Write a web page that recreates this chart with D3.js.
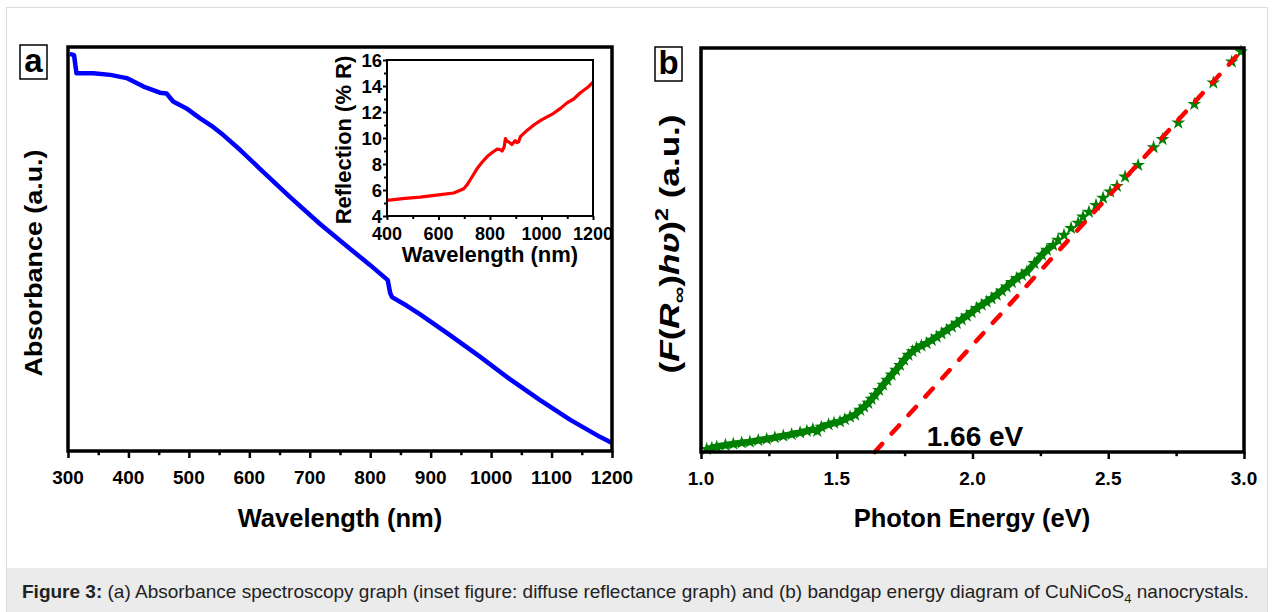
<!DOCTYPE html>
<meta charset="utf-8">
<title>Figure 3 - Absorbance and bandgap</title>
<style>
body {
  margin: 0;
  background: #fff;
}
text {
  font-family: "Liberation Sans", Arial, sans-serif;
  fill: #000;
}
.axis path { display: none; }
.axis line { stroke: #000; }
.tick-label { font-weight: bold; }
.title { font-weight: bold; }
</style>
<body>
<div id="fig"></div>

<script src="https://cdn.jsdelivr.net/npm/d3@7/dist/d3.min.js"></script>
<script>
// ---- data ----
// (a) absorbance, arbitrary units (0..1 across the frame)
const absWavelength = [303, 310, 314, 342, 370, 397, 425, 452, 463, 474, 496, 518, 540, 557, 585,
  618, 667, 717, 767, 800, 829, 833, 836, 860, 882, 932, 982, 1031, 1081, 1131, 1180, 1200];
const absValue = [0.983, 0.980, 0.935, 0.935, 0.931, 0.923, 0.902, 0.887, 0.885, 0.865, 0.848, 0.824, 0.802, 0.782, 0.745,
  0.698, 0.629, 0.562, 0.500, 0.460, 0.423, 0.391, 0.381, 0.360, 0.339, 0.287, 0.233, 0.178, 0.126, 0.077, 0.035, 0.020];

// inset: diffuse reflectance (%R)
const reflWavelength = [400, 470, 529, 600, 659, 698, 711, 730, 750, 770, 788, 810, 827, 840, 847, 855, 860, 866, 873, 885, 898, 905, 911, 918,
  945, 970, 1000, 1047, 1075, 1099, 1125, 1152, 1180, 1200];
const reflValue = [5.2, 5.35, 5.45, 5.62, 5.77, 6.1, 6.4, 7.0, 7.65, 8.15, 8.55, 8.9, 9.14, 9.1, 9.0, 9.3, 9.96, 9.75, 9.7, 9.5, 9.8, 9.65, 9.7, 10.1,
  10.6, 11.0, 11.4, 11.9, 12.3, 12.7, 13.0, 13.5, 13.9, 14.3];

// (b) Kubelka-Munk (F(R)hv)^2, arbitrary units (0..1 across the frame)
const energy = [1.021, 1.040, 1.058, 1.090, 1.119, 1.150, 1.180, 1.211, 1.242, 1.272, 1.303, 1.334, 1.365, 1.390, 1.412, 1.428, 1.443,
  1.470, 1.490, 1.512, 1.530, 1.549, 1.568, 1.586, 1.601, 1.616, 1.628, 1.641, 1.656, 1.671, 1.686, 1.702, 1.718, 1.733, 1.748, 1.764,
  1.779, 1.794, 1.812, 1.831, 1.850, 1.868, 1.886, 1.905, 1.924, 1.942, 1.960, 1.979, 1.997, 2.015, 2.034, 2.052, 2.070, 2.089, 2.108,
  2.126, 2.145, 2.163, 2.182, 2.200, 2.228, 2.256, 2.274, 2.297, 2.315, 2.337, 2.363, 2.389, 2.407, 2.429, 2.455, 2.481, 2.507, 2.532,
  2.562, 2.610, 2.667, 2.700, 2.758, 2.817, 2.887, 2.955, 2.989];
const kmValue = [0.007, 0.010, 0.013, 0.017, 0.020, 0.023, 0.025, 0.029, 0.032, 0.036, 0.040, 0.044, 0.048, 0.052, 0.056, 0.052, 0.062,
  0.068, 0.072, 0.075, 0.081, 0.087, 0.092, 0.104, 0.112, 0.121, 0.131, 0.141, 0.153, 0.166, 0.178, 0.191, 0.203, 0.215, 0.228, 0.240,
  0.249, 0.257, 0.263, 0.269, 0.277, 0.285, 0.293, 0.302, 0.310, 0.319, 0.328, 0.337, 0.346, 0.356, 0.364, 0.372, 0.380, 0.389, 0.399,
  0.409, 0.420, 0.430, 0.438, 0.446, 0.467, 0.488, 0.500, 0.512, 0.525, 0.537, 0.554, 0.567, 0.582, 0.594, 0.611, 0.629, 0.644, 0.658,
  0.681, 0.710, 0.754, 0.774, 0.815, 0.861, 0.914, 0.966, 0.991];

// linear fit of the absorption edge
const fitEnergy = [1.64, 3.0];
const fitValue = [0, 1.0];
const bandgapLabel = "1.66 eV";

// ticks
const absMajorTicks = [300, 400, 500, 600, 700, 800, 900, 1000, 1100, 1200];
const absMinorTicks = [350, 450, 550, 650, 750, 850, 950, 1050, 1150];
const insetXTicks = [400, 600, 800, 1000, 1200];
const insetXMinor = [500, 700, 900, 1100];
const insetYTicks = [4, 6, 8, 10, 12, 14, 16];
const insetYMinor = [5, 7, 9, 11, 13, 15];
const energyMajorTicks = [1.0, 1.5, 2.0, 2.5, 3.0];
const energyMinorTicks = [1.25, 1.75, 2.25, 2.75];

// ---- page ----
const width = 1273, height = 612;
const svg = d3.select("#fig").append("svg")
    .attr("width", width)
    .attr("height", height);

// outer figure box + caption band
svg.append("rect")
    .attr("x", 6.5).attr("y", 7.5)
    .attr("width", 1261).attr("height", 620)
    .attr("fill", "#fff").attr("stroke", "#dcdcdc");
svg.append("rect")
    .attr("x", 7).attr("y", 568)
    .attr("width", 1260).attr("height", 44)
    .attr("fill", "#ebebeb");

const caption = svg.append("text")
    .attr("x", 22).attr("y", 598)
    .style("font-size", "19px")
    .style("fill", "#222");
caption.append("tspan").style("font-weight", "bold").text("Figure 3:");
caption.append("tspan").text(" (a) Absorbance spectroscopy graph (inset figure: diffuse reflectance graph) and (b) bandgap energy diagram of CuNiCoS");
caption.append("tspan").attr("dy", 5).style("font-size", "13px").text("4");
caption.append("tspan").attr("dy", -5).text(" nanocrystals.");

// helper: bottom axis with major + minor ticks
function bottomAxis(g, scale, y, major, minor, len, fmt, fontSize, labelDy) {
  const ax = g.append("g").attr("class", "axis").attr("transform", `translate(0,${y})`);
  ax.call(d3.axisBottom(scale).tickValues(major).tickSize(len).tickFormat(""));
  ax.append("g").call(d3.axisBottom(scale).tickValues(minor).tickSize(len * 0.6).tickFormat(""));
  ax.selectAll("line").attr("stroke-width", 2.5);
  ax.selectAll("path").remove();
  g.selectAll(null).data(major).enter().append("text")
      .attr("class", "tick-label")
      .attr("x", d => scale(d))
      .attr("y", y + labelDy)
      .attr("text-anchor", "middle")
      .style("font-size", fontSize + "px")
      .text(fmt);
}

function panelLabel(x, y, letter) {
  svg.append("rect")
      .attr("x", x).attr("y", y)
      .attr("width", 27).attr("height", 34)
      .attr("fill", "#fff").attr("stroke", "#000").attr("stroke-width", 1.5);
  svg.append("text")
      .attr("x", x + 13.5).attr("y", y + 27)
      .attr("text-anchor", "middle")
      .style("font-size", "33px").style("font-weight", "bold")
      .text(letter);
}

// ---- panel (a) ----
const xA = d3.scaleLinear().domain([300, 1200]).range([68, 612]);
const yA = d3.scaleLinear().domain([0, 1]).range([451, 47]);
const gA = svg.append("g");

gA.append("path")
    .datum(d3.zip(absWavelength, absValue))
    .attr("fill", "none")
    .attr("stroke", "#0000ff")
    .attr("stroke-width", 4.5)
    .attr("stroke-linejoin", "round")
    .attr("d", d3.line().x(d => xA(d[0])).y(d => yA(d[1])));

gA.append("rect")
    .attr("x", 68).attr("y", 47)
    .attr("width", 544).attr("height", 404)
    .attr("fill", "none").attr("stroke", "#000").attr("stroke-width", 3.5);

bottomAxis(gA, xA, 451, absMajorTicks, absMinorTicks, 7, d => d, 19, 33);

gA.append("text").attr("class", "title")
    .attr("x", 340).attr("y", 527)
    .attr("text-anchor", "middle")
    .style("font-size", "25.5px")
    .text("Wavelength (nm)");
// rotated titles are a little stretched along their length in the source figure
gA.append("text").attr("class", "title")
    .attr("transform", "translate(42,263) rotate(-90) scale(1.12,1)")
    .attr("text-anchor", "middle")
    .style("font-size", "24px")
    .text("Absorbance (a.u.)");

panelLabel(20, 45, "a");

// inset
const xI = d3.scaleLinear().domain([400, 1200]).range([387, 593]);
const yI = d3.scaleLinear().domain([4, 16]).range([216, 60]);
const gI = svg.append("g");

gI.append("path")
    .datum(d3.zip(reflWavelength, reflValue))
    .attr("fill", "none")
    .attr("stroke", "#ff0000")
    .attr("stroke-width", 3.2)
    .attr("stroke-linejoin", "round")
    .attr("d", d3.line().x(d => xI(d[0])).y(d => yI(d[1])));

gI.append("rect")
    .attr("x", 387).attr("y", 60)
    .attr("width", 206).attr("height", 156)
    .attr("fill", "none").attr("stroke", "#000").attr("stroke-width", 2);

const insetX = gI.append("g").attr("class", "axis").attr("transform", "translate(0,216)");
insetX.call(d3.axisBottom(xI).tickValues(insetXTicks).tickSize(4).tickFormat(""));
insetX.append("g").call(d3.axisBottom(xI).tickValues(insetXMinor).tickSize(3).tickFormat(""));
insetX.selectAll("line").attr("stroke-width", 2);
const insetY = gI.append("g").attr("class", "axis").attr("transform", "translate(387,0)");
insetY.call(d3.axisLeft(yI).tickValues(insetYTicks).tickSize(4).tickFormat(""));
insetY.append("g").call(d3.axisLeft(yI).tickValues(insetYMinor).tickSize(3).tickFormat(""));
insetY.selectAll("line").attr("stroke-width", 2);

gI.selectAll(null).data(insetXTicks).enter().append("text")
    .attr("class", "tick-label")
    .attr("x", d => xI(d)).attr("y", 240)
    .attr("text-anchor", "middle")
    .style("font-size", "18px")
    .text(d => d);
gI.selectAll(null).data(insetYTicks).enter().append("text")
    .attr("class", "tick-label")
    .attr("x", 382).attr("y", d => yI(d) + 6.5)
    .attr("text-anchor", "end")
    .style("font-size", "18.5px")
    .text(d => d);

gI.append("text").attr("class", "title")
    .attr("x", 490).attr("y", 262)
    .attr("text-anchor", "middle")
    .style("font-size", "22px")
    .text("Wavelength (nm)");
gI.append("text").attr("class", "title")
    .attr("transform", "translate(351,140) rotate(-90)")
    .attr("text-anchor", "middle")
    .style("font-size", "22px")
    .text("Reflection (% R)");

// ---- panel (b) ----
const xB = d3.scaleLinear().domain([1, 3]).range([701, 1244]);
const yB = d3.scaleLinear().domain([0, 1]).range([452, 48]);
const gB = svg.append("g");
const kmPoints = d3.zip(energy, kmValue);

// the dense low-energy part reads as a solid band of stars
gB.append("path")
    .datum(kmPoints.filter(d => d[0] < 2.3))
    .attr("fill", "none")
    .attr("stroke", "#008000")
    .attr("stroke-width", 6.5)
    .attr("stroke-linejoin", "round")
    .attr("d", d3.line().x(d => xB(d[0])).y(d => yB(d[1])));

gB.selectAll("path.star")
    .data(kmPoints)
    .enter().append("path")
    .attr("class", "star")
    .attr("transform", d => `translate(${xB(d[0])},${yB(d[1])})`)
    .attr("d", d3.symbol(d3.symbolStar, 60))
    .attr("fill", "#008000");

gB.append("path")
    .datum(d3.zip(fitEnergy, fitValue))
    .attr("fill", "none")
    .attr("stroke", "#ff0000")
    .attr("stroke-width", 4.5)
    .attr("stroke-dasharray", "11,14")
    .attr("stroke-linecap", "round")
    .attr("d", d3.line().x(d => xB(d[0])).y(d => yB(d[1])));

gB.append("rect")
    .attr("x", 701).attr("y", 48)
    .attr("width", 543).attr("height", 404)
    .attr("fill", "none").attr("stroke", "#000").attr("stroke-width", 3.5);

bottomAxis(gB, xB, 452, energyMajorTicks, energyMinorTicks, 7, d3.format(".1f"), 19, 33);

gB.append("text").attr("class", "title")
    .attr("x", 975).attr("y", 446)
    .attr("text-anchor", "middle")
    .style("font-size", "28px")
    .text(bandgapLabel);

gB.append("text").attr("class", "title")
    .attr("x", 972).attr("y", 527)
    .attr("text-anchor", "middle")
    .style("font-size", "25.5px")
    .text("Photon Energy (eV)");

const yTitleB = gB.append("text").attr("class", "title")
    .attr("transform", "translate(679,244) rotate(-90) scale(1.3,1)")
    .attr("text-anchor", "middle")
    .style("font-size", "27px");
yTitleB.append("tspan").text("(");
yTitleB.append("tspan").style("font-style", "italic").text("F");
yTitleB.append("tspan").text("(");
yTitleB.append("tspan").style("font-style", "italic").text("R");
yTitleB.append("tspan").attr("dy", 6).style("font-size", "18px").text("\u221E");
yTitleB.append("tspan").attr("dy", -6).text(")");
yTitleB.append("tspan").style("font-style", "italic").text("h\u028B");
yTitleB.append("tspan").text(")");
yTitleB.append("tspan").attr("dy", -11).style("font-size", "18px").text("2");
yTitleB.append("tspan").attr("dy", 11).text(" (a.u.)");

panelLabel(655, 47, "b");
</script>
</body>
</html>
